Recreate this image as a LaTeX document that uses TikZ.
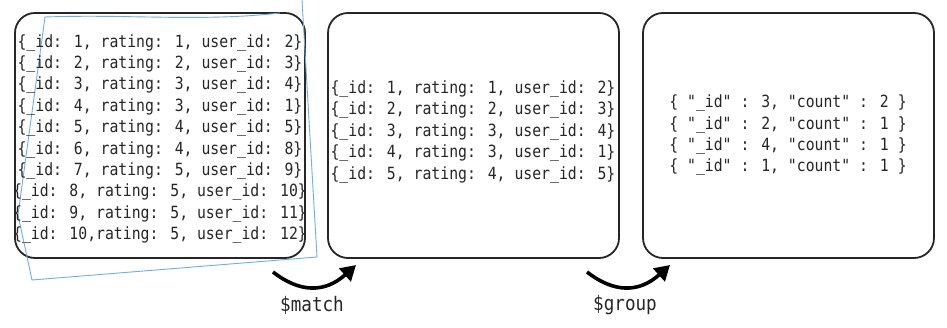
\documentclass[tikz,border=0pt]{standalone}
\usepackage{fontspec}
\newfontfamily\codefont[FakeStretch=0.88]{DejaVu Sans Mono}
\usetikzlibrary{arrows.meta}
\begin{document}
\begin{tikzpicture}[x=1pt,y=-1pt,
  panel/.style={draw=black!85, line width=1.8pt, rounded corners=20pt},
  doc/.style={text=black!85, font=\codefont\fontsize{16.8}{21.4}\selectfont, align=center, inner sep=0pt},
  oplabel/.style={text=black!85, font=\codefont\fontsize{20}{22}\selectfont, inner sep=0pt},
  flow/.style={line width=3.6pt, black, -{Triangle[length=15pt,width=17pt]}},
  ink/.style={draw={rgb,255:red,110;green,175;blue,225}, line width=0.9pt}
]
\useasboundingbox (0,0) rectangle (947,328);
\fill[white] (0,0) rectangle (947,328);

% panels
\draw[panel] (15,13) rectangle (305,258);
\draw[panel] (328,13) rectangle (619,258);
\draw[panel] (643,13) rectangle (934,258);

% hand-drawn annotation
\draw[ink] (302,0) -- (317,257) -- (32,280) -- (18,215) -- (45,17)
  .. controls (130,14) and (200,22) .. (280,13);

% contents
\node[doc] (all) at (160,139) {%
\{\_id: 1, rating: 1, user\_id: 2\}\\
\{\_id: 2, rating: 2, user\_id: 3\}\\
\{\_id: 3, rating: 3, user\_id: 4\}\\
\{\_id: 4, rating: 3, user\_id: 1\}\\
\{\_id: 5, rating: 4, user\_id: 5\}\\
\{\_id: 6, rating: 4, user\_id: 8\}\\
\{\_id: 7, rating: 5, user\_id: 9\}\\
\{\_id: 8, rating: 5, user\_id: 10\}\\
\{\_id: 9, rating: 5, user\_id: 11\}\\
\{\_id: 10,rating: 5, user\_id: 12\}};

\node[doc] (matched) at (473,132) {%
\{\_id: 1, rating: 1, user\_id: 2\}\\
\{\_id: 2, rating: 2, user\_id: 3\}\\
\{\_id: 3, rating: 3, user\_id: 4\}\\
\{\_id: 4, rating: 3, user\_id: 1\}\\
\{\_id: 5, rating: 4, user\_id: 5\}};

\node[doc] (grouped) at (788,135.5) {%
\{ "\_id" : 3, "count" : 2 \}\\
\{ "\_id" : 2, "count" : 1 \}\\
\{ "\_id" : 4, "count" : 1 \}\\
\{ "\_id" : 1, "count" : 1 \}};

% arrows
\coordinate (m1) at (273,272);
\coordinate (m2) at (356,265);
\coordinate (g1) at (587,272);
\coordinate (g2) at (670,265);
\draw[flow] (m1) .. controls (300,293) and (325,293) .. (m2);
\draw[flow] (g1) .. controls (614,293) and (639,293) .. (g2);

\node[oplabel] (match) at (312,305) {\$match};
\node[oplabel] (group) at (625,305) {\$group};
\end{tikzpicture}
\end{document}
